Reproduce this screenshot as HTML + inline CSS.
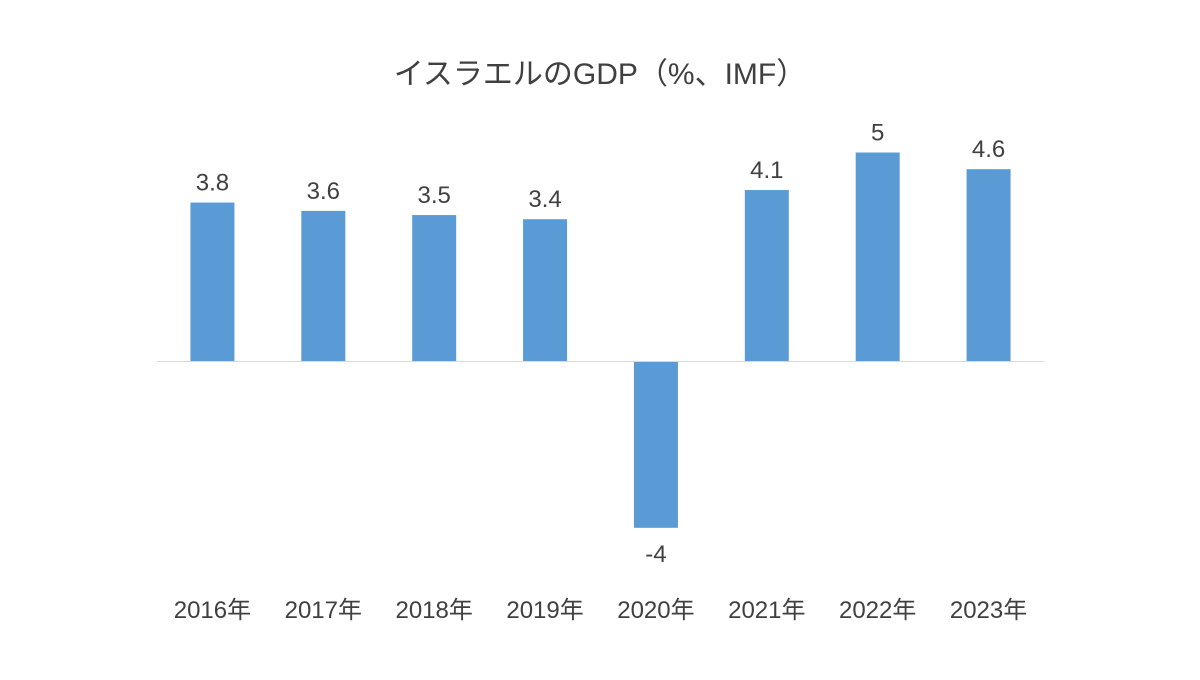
<!DOCTYPE html>
<html><head><meta charset="utf-8"><style>
body{margin:0;background:#fff}
svg text{font-family:"Liberation Sans","Noto Sans CJK JP",sans-serif;fill:#404040}
</style></head><body>
<svg width="1200" height="675">
<rect width="1200" height="675" fill="#fff"/>
<text x="600" y="84" font-size="30" text-anchor="middle">イスラエルのGDP（%、IMF）</text>
<g id="bars"></g>
<line x1="157" x2="1044" y1="361.5" y2="361.5" stroke="#d9d9d9" stroke-width="1"/>
</svg>
<script>
const categories=["2016年","2017年","2018年","2019年","2020年","2021年","2022年","2023年"];
const values=[3.8,3.6,3.5,3.4,-4,4.1,5,4.6];
const left=157,right=1044,zeroY=361,scale=41.7,barW=44;
const step=(right-left)/categories.length;
const xC=i=>left+step*(i+0.5);
const yV=v=>zeroY-v*scale;
const g=document.getElementById('bars');
const ns='http://www.w3.org/2000/svg';
categories.forEach((c,i)=>{
  const v=values[i];
  const r=document.createElementNS(ns,'rect');
  
  
  r.setAttribute('x',xC(i)-barW/2);
  r.setAttribute('y',Math.min(yV(v),zeroY));
  r.setAttribute('width',barW);
  r.setAttribute('height',Math.abs(yV(v)-zeroY));
  r.setAttribute('fill','#5b9bd5');
  g.appendChild(r);
  const t=document.createElementNS(ns,'text');
  
  
  t.setAttribute('x',xC(i));
  t.setAttribute('y',v>=0?yV(v)-12:yV(v)+34);
  t.setAttribute('font-size','24');
  t.setAttribute('text-anchor','middle');
  t.textContent=String(v);
  g.appendChild(t);
  const xl=document.createElementNS(ns,'text');
  
  
  xl.setAttribute('x',xC(i));
  xl.setAttribute('y',618);
  xl.setAttribute('font-size','24');
  xl.setAttribute('text-anchor','middle');
  xl.textContent=c;
  g.appendChild(xl);
});
</script>
</body></html>
